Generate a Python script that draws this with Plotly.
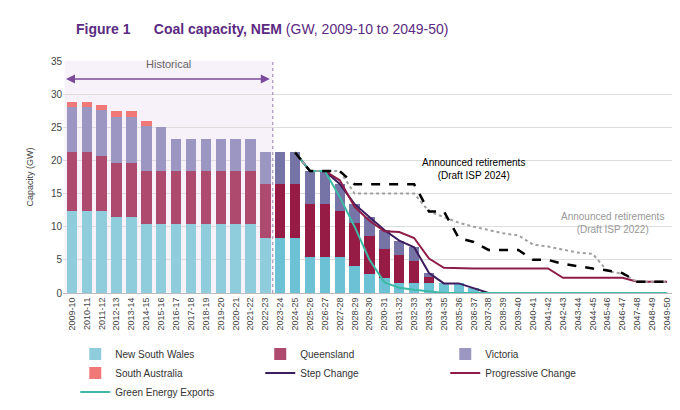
import plotly.graph_objects as go

years = [f"{y}-{str(y + 1)[-2:]}" for y in range(2009, 2050)]

nsw = [12.3, 12.3, 12.3, 11.5, 11.5, 10.35, 10.35, 10.35, 10.35, 10.35, 10.35, 10.35, 10.35, 8.3,
       8.3, 8.3, 5.45, 5.45, 5.45, 4.1, 2.8, 2.2, 1.45, 1.45, 1.45, 1.45, 1.45, 0.7]
qld = [8.9, 8.9, 8.4, 8.1, 8.1, 8.05, 8.05, 8.05, 8.05, 8.05, 8.05, 8.05, 8.05, 8.15,
       8.15, 8.15, 8.05, 8.05, 6.85, 6.4, 5.8, 4.5, 4.35, 3.35, 0.95, 0, 0, 0]
vic = [6.9, 6.9, 6.9, 7.0, 7.0, 6.8, 6.6, 4.85, 4.85, 4.85, 4.85, 4.85, 4.85, 4.75,
       4.75, 4.75, 4.95, 4.95, 4.15, 2.9, 2.8, 2.8, 2.1, 2.1, 0.6, 0, 0, 0]
sa = [0.7, 0.7, 0.8, 0.8, 0.8, 0.8, 0, 0, 0, 0, 0, 0, 0, 0,
      0, 0, 0, 0, 0, 0, 0, 0, 0, 0, 0, 0, 0, 0]

step = [21.2, 18.4, 18.4, 16.45, 13.4, 11.4, 9.5, 7.9, 6.9, 3.0, 1.45, 1.45, 0.7, 0,
        0, 0, 0, 0, 0, 0, 0, 0, 0, 0, 0, 0]
progressive = [21.2, 18.4, 18.4, 17.0, 13.0, 10.9, 9.3, 9.2, 8.3, 5.2, 3.8, 3.7, 3.7, 3.7,
               3.7, 3.7, 3.7, 3.7, 2.3, 2.3, 2.3, 2.3, 2.3, 1.7, 1.7, 1.7]
green = [21.2, 18.4, 18.4, 14.5, 10.0, 5.0, 1.6, 0.8, 0.5, 0.2, 0, 0, 0, 0,
         0, 0, 0, 0, 0, 0, 0, 0, 0, 0, 0, 0]
isp2024 = [21.2, 18.4, 18.4, 18.4, 16.4, 16.4, 16.4, 16.4, 16.4, 12.3, 12.3, 8.3, 7.7, 6.5,
           6.5, 6.5, 5.0, 5.0, 4.4, 4.0, 3.7, 3.4, 3.0, 1.7, 1.7, 1.7]
isp2022 = [21.2, 18.4, 18.4, 18.4, 15.0, 15.0, 15.0, 15.0, 15.0, 12.3, 11.5, 10.6, 10.0, 9.5,
           9.0, 8.7, 7.3, 7.0, 6.6, 6.1, 5.9, 3.3, 2.9, 1.7, 1.7, 1.7]

bar_years = years[:len(nsw)]
line_years = years[15:]
n_hist = 14


def shade(light, dark):
    return [light if i < n_hist else dark for i in range(len(nsw))]


fig = go.Figure()

for name, vals, light, dark in [
    ("New South Wales", nsw, "#8fcddc", "#6cc2d4"),
    ("Queensland", qld, "#ae4a6d", "#971c45"),
    ("Victoria", vic, "#9b96c2", "#7674a6"),
    ("South Australia", sa, "#f07876", "#f07876"),
]:
    fig.add_trace(go.Bar(x=bar_years, y=vals, name=name, marker=dict(color=shade(light, dark), line_width=0)))

for name, vals, color in [
    ("Step Change", step, "#3d1d5e"),
    ("Progressive Change", progressive, "#8e1c48"),
    ("Green Energy Exports", green, "#3dbaa6"),
]:
    fig.add_trace(go.Scatter(x=line_years, y=vals, name=name, mode="lines",
                             line=dict(color=color, width=2)))

fig.add_trace(go.Scatter(x=line_years, y=isp2022, mode="lines", showlegend=False,
                         line=dict(color="#a0a0a0", width=2, dash="dot")))
fig.add_trace(go.Scatter(x=line_years, y=isp2024, mode="lines", showlegend=False,
                         line=dict(color="black", width=2.5, dash="dash")))

fig.add_shape(type="rect", xref="x", yref="y", x0=-0.5, x1=13.5, y0=0, y1=35,
              fillcolor="rgba(233,215,238,0.35)", line_width=0, layer="below")
fig.add_shape(type="line", xref="x", yref="y", x0=13.5, x1=13.5, y0=0, y1=35,
              line=dict(color="#9a7fb0", width=1, dash="dot"))
fig.add_annotation(x=-0.4, y=32.3, ax=13.4, ay=32.3, xref="x", yref="y", axref="x", ayref="y",
                   showarrow=True, arrowhead=2, arrowside="end+start", arrowsize=1.2,
                   arrowcolor="#7b4a9b", arrowwidth=1.5, text="")
fig.add_annotation(x=6.5, y=33.3, text="Historical", showarrow=False,
                   font=dict(size=11, color="#666"), yanchor="bottom")
fig.add_annotation(x=27, y=18.7, text="Announced retirements<br>(Draft ISP 2024)", showarrow=False,
                   font=dict(size=10, color="black"), align="center")
fig.add_annotation(x=36.3, y=10.6, text="Announced retirements<br>(Draft ISP 2022)", showarrow=False,
                   font=dict(size=10, color="#999"), align="center")

fig.update_layout(
    width=680, height=410, barmode="stack", bargap=0.3,
    plot_bgcolor="white", paper_bgcolor="white",
    font=dict(family="Arial, Liberation Sans", size=10, color="#444"),
    margin=dict(l=55, r=12, t=53, b=100),
    title=dict(text="<b>Figure 1</b>      <b>Coal capacity, NEM</b> (GW, 2009-10 to 2049-50)",
               x=0.1, y=0.96, xanchor="left", font=dict(size=14, color="#5b2a82")),
    xaxis=dict(type="category", categoryorder="array", categoryarray=years, tickangle=-90, showline=True,
               linecolor="#bbb", tickfont=dict(size=9), range=[-0.6, 40.6]),
    yaxis=dict(range=[0, 35], dtick=5, gridcolor="#ddd", title=dict(text="Capacity (GW)", font=dict(size=9))),
    legend=dict(orientation="h", x=0.02, y=-0.2, yanchor="top", entrywidth=140,
                font=dict(size=10, color="#333"), traceorder="normal", tracegroupgap=0),
)

fig.write_html("out.html")
